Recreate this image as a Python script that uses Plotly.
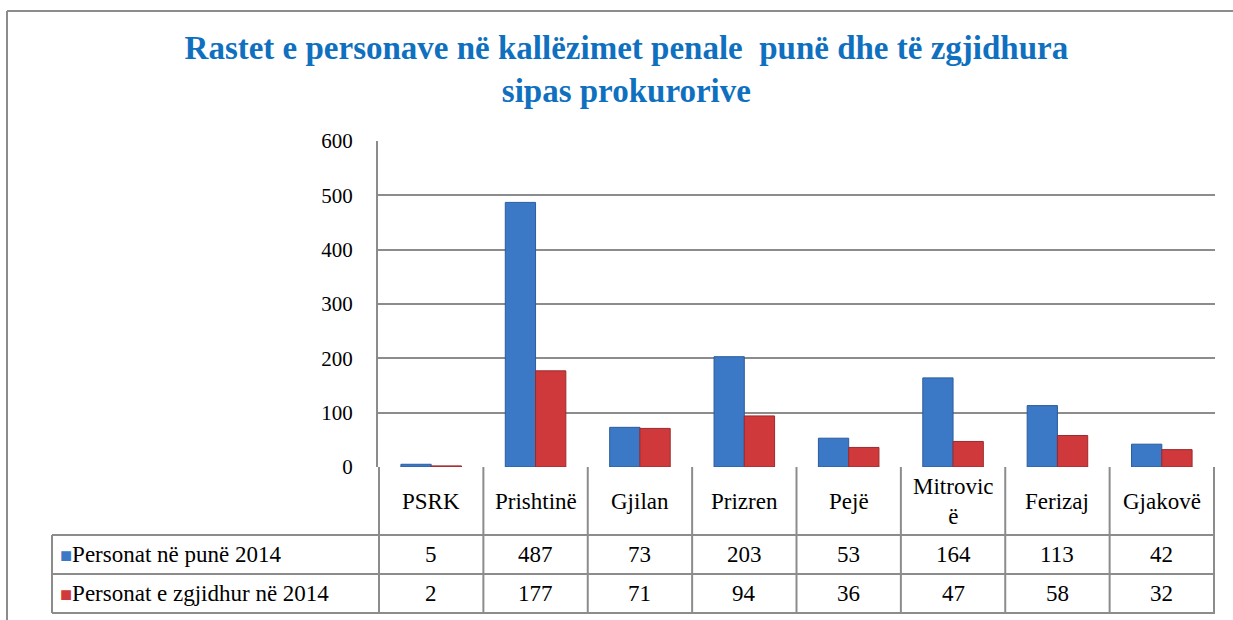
import plotly.graph_objects as go

categories = ["PSRK", "Prishtinë", "Gjilan", "Prizren", "Pejë", "Mitrovicë", "Ferizaj", "Gjakovë"]
header_labels = ["PSRK", "Prishtinë", "Gjilan", "Prizren", "Pejë", "Mitrovic<br>ë", "Ferizaj", "Gjakovë"]
persons_work = [5, 487, 73, 203, 53, 164, 113, 42]
persons_solved = [2, 177, 71, 94, 36, 47, 58, 32]
series_names = ["Personat në punë 2014", "Personat e zgjidhur në 2014"]

BLUE = "#3b78c6"
RED = "#d0393b"
GRID = "#8c8c8c"
FONT = "Liberation Serif, DejaVu Serif, serif"

W, H = 1233, 620
L, R, T, B = 378, 1215, 141, 467  # plot area in pixels


def px(x):
    return (x - L) / (R - L)


def py(y):
    return (B - y) / (B - T)


fig = go.Figure()
fig.add_trace(go.Bar(x=categories, y=persons_work, name=series_names[0],
                     marker=dict(color=BLUE, line=dict(color="#2b5c9e", width=1))))
fig.add_trace(go.Bar(x=categories, y=persons_solved, name=series_names[1],
                     marker=dict(color=RED, line=dict(color="#9c2a2c", width=1))))

shapes = []
line = dict(color=GRID, width=2)
# outer frame (top and left)
shapes.append(dict(type="line", xref="paper", yref="paper", x0=px(7), x1=px(1240), y0=py(11), y1=py(11), line=line))
shapes.append(dict(type="line", xref="paper", yref="paper", x0=px(7), x1=px(7), y0=py(11), y1=py(630), line=line))

# data table below the axis
row_y = [py(467), py(535), py(574), py(613)]
for yv in row_y[1:]:
    shapes.append(dict(type="line", xref="paper", yref="paper", x0=px(52), x1=1, y0=yv, y1=yv, line=line))
for i in range(len(categories) + 1):
    shapes.append(dict(type="line", xref="x", yref="paper", x0=i - 0.5, x1=i - 0.5,
                       y0=row_y[0], y1=row_y[3], line=line))
shapes.append(dict(type="line", xref="paper", yref="paper", x0=px(52), x1=px(52),
                   y0=row_y[1], y1=row_y[3], line=line))

annotations = []
for i, lab in enumerate(header_labels):
    for text, (y0, y1) in [(lab, row_y[0:2]), (str(persons_work[i]), row_y[1:3]),
                           (str(persons_solved[i]), row_y[2:4])]:
        annotations.append(dict(x=i, y=(y0 + y1) / 2, xref="x", yref="paper",
                                xanchor="center", yanchor="middle", text=text, showarrow=False,
                                font=dict(family=FONT, size=23, color="#000000")))
for name, color, (y0, y1) in [(series_names[0], BLUE, row_y[1:3]),
                              (series_names[1], RED, row_y[2:4])]:
    annotations.append(dict(x=px(58), y=(y0 + y1) / 2, xref="paper", yref="paper",
                            xanchor="left", yanchor="middle", showarrow=False,
                            font=dict(family=FONT, size=23, color="#000000"),
                            text=f"<span style='color:{color};font-size:20px'>■</span>{name}"))

fig.update_layout(
    width=W, height=H,
    margin=dict(l=L, r=W - R, t=T, b=H - B),
    paper_bgcolor="white", plot_bgcolor="white",
    font=dict(family=FONT),
    title=dict(text="Rastet e personave në kallëzimet penale  punë dhe të zgjidhura<br>sipas prokurorive",
               x=0.508, xanchor="center", y=1 - 59 / H, yanchor="middle",
               font=dict(family=FONT, size=33, color="#0f70c0", weight="bold")),
    barmode="group", bargap=0.42, bargroupgap=0,
    showlegend=False,
    xaxis=dict(showticklabels=False, showgrid=False, zeroline=False, showline=False),
    yaxis=dict(range=[0, 600], dtick=100, showgrid=True, gridcolor=GRID, gridwidth=2,
               showline=True, linecolor=GRID, linewidth=2, zeroline=False,
               ticks="", ticklabelstandoff=19,
               tickfont=dict(family=FONT, size=21, color="#000000")),
    shapes=shapes, annotations=annotations,
)

fig.write_html("out.html", config={"displayModeBar": False},
               post_script="document.body.style.margin = '0px';")
